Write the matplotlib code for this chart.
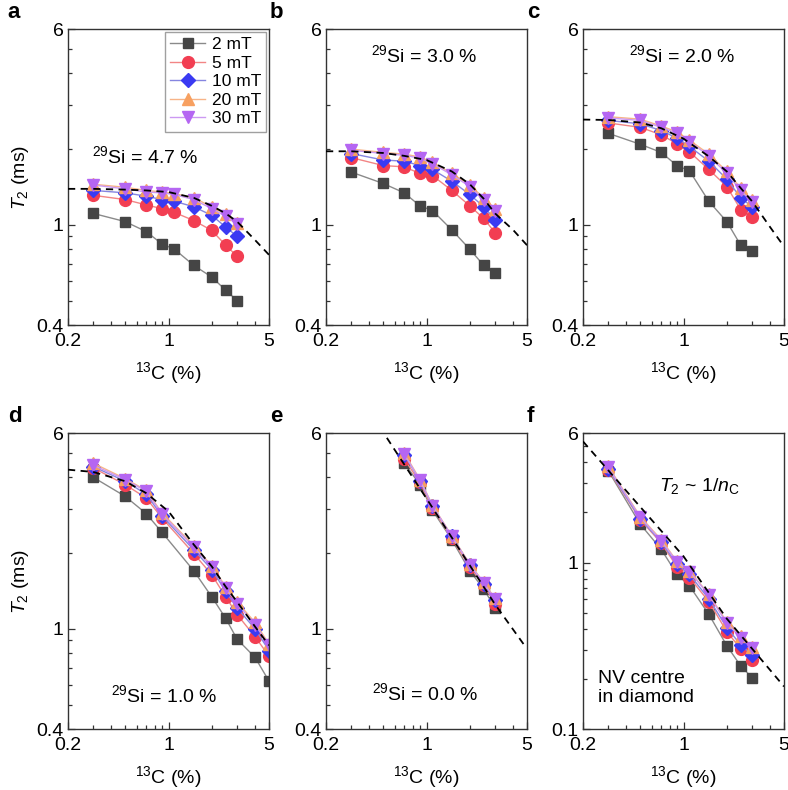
import numpy as np
import matplotlib
matplotlib.use('Agg')
import matplotlib.pyplot as plt
from matplotlib.ticker import FixedLocator, NullFormatter

plt.rcParams['font.family'] = ['Liberation Sans', 'DejaVu Sans']
plt.rcParams['mathtext.fontset'] = 'custom'
plt.rcParams['mathtext.rm'] = 'Liberation Sans'
plt.rcParams['mathtext.it'] = 'Liberation Sans:italic'
plt.rcParams['mathtext.bf'] = 'Liberation Sans:bold'

# ---- data ----
fields = ['2 mT', '5 mT', '10 mT', '20 mT', '30 mT']

x9 = [0.3, 0.5, 0.7, 0.9, 1.1, 1.5, 2.0, 2.5, 3.0]
x_d = [0.3, 0.5, 0.7, 0.9, 1.5, 2.0, 2.5, 3.0, 4.0, 5.0]
x_e = [0.7, 0.9, 1.1, 1.5, 2.0, 2.5, 3.0]
x_fit = [0.2, 0.3, 0.5, 0.7, 1.0, 1.5, 2.0, 2.5, 3.0, 4.0, 5.0]

# panel a, 29Si = 4.7 %
a_2 = [1.11, 1.03, 0.94, 0.84, 0.80, 0.69, 0.62, 0.55, 0.50]
a_5 = [1.31, 1.26, 1.20, 1.16, 1.12, 1.04, 0.95, 0.83, 0.75]
a_10 = [1.37, 1.34, 1.30, 1.26, 1.24, 1.18, 1.09, 0.98, 0.90]
a_20 = [1.45, 1.41, 1.37, 1.35, 1.33, 1.28, 1.18, 1.10, 1.02]
a_30 = [1.44, 1.39, 1.35, 1.34, 1.32, 1.26, 1.16, 1.08, 1.01]
a_fit = [1.39, 1.39, 1.38, 1.37, 1.35, 1.28, 1.19, 1.11, 1.03, 0.87, 0.76]

# panel b, 29Si = 3.0 %
b_2 = [1.62, 1.46, 1.34, 1.19, 1.14, 0.955, 0.80, 0.69, 0.646]
b_5 = [1.85, 1.72, 1.70, 1.60, 1.57, 1.37, 1.19, 1.06, 0.93]
b_10 = [1.92, 1.81, 1.79, 1.72, 1.66, 1.49, 1.32, 1.18, 1.05]
b_20 = [2.00, 1.94, 1.91, 1.86, 1.77, 1.60, 1.44, 1.28, 1.16]
b_30 = [1.98, 1.92, 1.89, 1.84, 1.75, 1.58, 1.42, 1.26, 1.14]
b_fit = [1.96, 1.96, 1.93, 1.88, 1.81, 1.63, 1.45, 1.27, 1.11, 0.955, 0.83]

# panel c, 29Si = 2.0 %
c_2 = [2.31, 2.09, 1.94, 1.72, 1.64, 1.24, 1.03, 0.83, 0.79]
c_5 = [2.54, 2.44, 2.28, 2.10, 1.95, 1.66, 1.42, 1.15, 1.07]
c_10 = [2.60, 2.52, 2.37, 2.21, 2.05, 1.79, 1.52, 1.28, 1.18]
c_20 = [2.69, 2.63, 2.47, 2.34, 2.17, 1.91, 1.63, 1.40, 1.25]
c_30 = [2.66, 2.60, 2.44, 2.31, 2.14, 1.88, 1.60, 1.37, 1.23]
c_fit = [2.62, 2.61, 2.55, 2.42, 2.20, 1.87, 1.63, 1.40, 1.24, 0.98, 0.82]

# panel d, 29Si = 1.0 %
d_2 = [4.00, 3.36, 2.87, 2.42, 1.70, 1.34, 1.10, 0.91, 0.77, 0.62]
d_5 = [4.36, 3.74, 3.31, 2.76, 1.99, 1.64, 1.34, 1.14, 0.93, 0.78]
d_10 = [4.41, 3.86, 3.43, 2.81, 2.06, 1.72, 1.41, 1.21, 1.00, 0.82]
d_20 = [4.55, 3.95, 3.55, 2.89, 2.14, 1.78, 1.47, 1.28, 1.06, 0.87]
d_30 = [4.47, 3.92, 3.52, 2.86, 2.11, 1.76, 1.45, 1.26, 1.04, 0.86]
d_fit = [4.29, 4.20, 3.86, 3.46, 2.93, 2.16, 1.77, 1.47, 1.28, 1.02, 0.86]

# panel e, 29Si = 0.0 %
e_2 = [4.56, 3.74, 2.96, 2.26, 1.70, 1.44, 1.21]
e_5 = [4.73, 3.82, 3.02, 2.29, 1.76, 1.49, 1.26]
e_10 = [4.92, 3.88, 3.07, 2.33, 1.80, 1.51, 1.30]
e_20 = [5.00, 3.92, 3.10, 2.34, 1.81, 1.53, 1.32]
e_30 = [4.95, 3.90, 3.09, 2.33, 1.80, 1.52, 1.31]
e_fit_x = [0.53, 1.1, 3.0, 4.8]
e_fit = [5.74, 3.03, 1.25, 0.86]

# panel f, NV centre in diamond
f_2 = [3.56, 1.70, 1.20, 0.851, 0.724, 0.489, 0.317, 0.239, 0.2035]
f_5 = [3.61, 1.81, 1.31, 0.946, 0.813, 0.583, 0.385, 0.303, 0.260]
f_10 = [3.66, 1.83, 1.33, 0.977, 0.848, 0.605, 0.407, 0.320, 0.278]
f_20 = [3.78, 1.89, 1.37, 1.02, 0.890, 0.645, 0.440, 0.360, 0.310]
f_30 = [3.73, 1.87, 1.35, 1.01, 0.883, 0.639, 0.432, 0.354, 0.305]
f_fit_x = [0.2, 1.0, 2.0, 5.0]
f_fit = [5.34, 1.09, 0.46, 0.18]

# ---- styles ----
styles = [
    dict(marker='s', ms=7, mfc='#454545', mec='#454545', color='#8a8a8a'),
    dict(marker='o', ms=8.5, mfc='#f23e52', mec='#f23e52', color='#f28585'),
    dict(marker='D', ms=7, mfc='#3a3af2', mec='#3a3af2', color='#8585e0'),
    dict(marker='^', ms=8.5, mfc='#f7a060', mec='#f7a060', color='#f7b488'),
    dict(marker='v', ms=8.5, mfc='#b566f2', mec='#b566f2', color='#cc99f2'),
]

panels = [
    ('a', x9, [a_2, a_5, a_10, a_20, a_30], x_fit, a_fit, 0.4),
    ('b', x9, [b_2, b_5, b_10, b_20, b_30], x_fit, b_fit, 0.4),
    ('c', x9, [c_2, c_5, c_10, c_20, c_30], x_fit, c_fit, 0.4),
    ('d', x_d, [d_2, d_5, d_10, d_20, d_30], x_fit, d_fit, 0.4),
    ('e', x_e, [e_2, e_5, e_10, e_20, e_30], e_fit_x, e_fit, 0.4),
    ('f', x9, [f_2, f_5, f_10, f_20, f_30], f_fit_x, f_fit, 0.1),
]

fig = plt.figure(figsize=(7.88, 7.90), dpi=100)

W, H = 788.0, 790.0
lefts = [68, 326, 583]
tops = [29, 433]
aw, ah = 201, 296
FS = 14

axes = []
for i, (lab, xs, series, fx, fy, ymin) in enumerate(panels):
    r, c = divmod(i, 3)
    ax = fig.add_axes([lefts[c] / W, 1 - (tops[r] + ah) / H, aw / W, ah / H])
    axes.append(ax)
    for y, name, st in zip(series, fields, styles):
        ax.plot(xs, y, lw=1.0, label=name, **st)
    ax.plot(fx, fy, ls=(0, (4, 3)), color='black', lw=1.3, zorder=5)

    ax.set_xscale('log')
    ax.set_yscale('log')
    ax.set_xlim(0.2, 5)
    ax.set_ylim(ymin, 6)
    ax.xaxis.set_major_locator(FixedLocator([0.2, 1, 5]))
    ax.xaxis.set_minor_locator(FixedLocator([0.3, 0.4, 0.5, 0.6, 0.7, 0.8, 0.9, 2, 3, 4]))
    ax.set_xticklabels(['0.2', '1', '5'])
    ax.xaxis.set_minor_formatter(NullFormatter())
    if ymin == 0.4:
        ax.yaxis.set_major_locator(FixedLocator([0.4, 1, 6]))
        ax.yaxis.set_minor_locator(FixedLocator([0.5, 0.6, 0.7, 0.8, 0.9, 2, 3, 4, 5]))
        ax.set_yticklabels(['0.4', '1', '6'])
    else:
        ax.yaxis.set_major_locator(FixedLocator([0.1, 1, 6]))
        ax.yaxis.set_minor_locator(FixedLocator([0.2, 0.3, 0.4, 0.5, 0.6, 0.7, 0.8, 0.9, 2, 3, 4, 5]))
        ax.set_yticklabels(['0.1', '1', '6'])
    ax.yaxis.set_minor_formatter(NullFormatter())
    ax.tick_params(which='both', direction='in', top=False, right=False,
                   labelsize=FS, color='#333333')
    ax.tick_params(axis='x', which='major', pad=6)
    ax.tick_params(axis='y', which='major', pad=3)
    ax.tick_params(which='major', length=5, width=0.9)
    ax.tick_params(which='minor', length=3, width=0.9)
    for s in ax.spines.values():
        s.set_color('#333333')
        s.set_linewidth(1.0)
    ax.set_xlabel(r'$^{13}$C (%)', fontsize=FS, labelpad=7)
    if c == 0:
        ax.set_ylabel(r'$T_2$ (ms)', fontsize=FS, labelpad=4)
    ax.text(-0.30 if c == 0 else -0.28, 1.02, lab, transform=ax.transAxes,
            fontsize=16, fontweight='bold', va='bottom', ha='left')

axes[0].text(0.12, 0.57, r'$^{29}$Si = 4.7 %', transform=axes[0].transAxes,
             fontsize=FS, ha='left', va='center')
axes[1].text(0.49, 0.91, r'$^{29}$Si = 3.0 %', transform=axes[1].transAxes,
             fontsize=FS, ha='center', va='center')
axes[2].text(0.495, 0.91, r'$^{29}$Si = 2.0 %', transform=axes[2].transAxes,
             fontsize=FS, ha='center', va='center')
axes[3].text(0.48, 0.115, r'$^{29}$Si = 1.0 %', transform=axes[3].transAxes,
             fontsize=FS, ha='center', va='center')
axes[4].text(0.495, 0.12, r'$^{29}$Si = 0.0 %', transform=axes[4].transAxes,
             fontsize=FS, ha='center', va='center')
axes[5].text(0.58, 0.82, r'$T_2$ ~ 1/$n_{\mathrm{C}}$', transform=axes[5].transAxes,
             fontsize=FS, ha='center', va='center')
axes[5].text(0.075, 0.14, 'NV centre\nin diamond', transform=axes[5].transAxes,
             fontsize=FS, ha='left', va='center', linespacing=1.15)

leg = axes[0].legend(loc='upper right', fontsize=12.5, frameon=True, fancybox=False,
                     borderaxespad=0.15, handlelength=2.0, handletextpad=0.4,
                     labelspacing=0.2, borderpad=0.3)
leg.get_frame().set_edgecolor('#888888')
leg.get_frame().set_linewidth(1.0)

fig.savefig('out.png', dpi=100)
